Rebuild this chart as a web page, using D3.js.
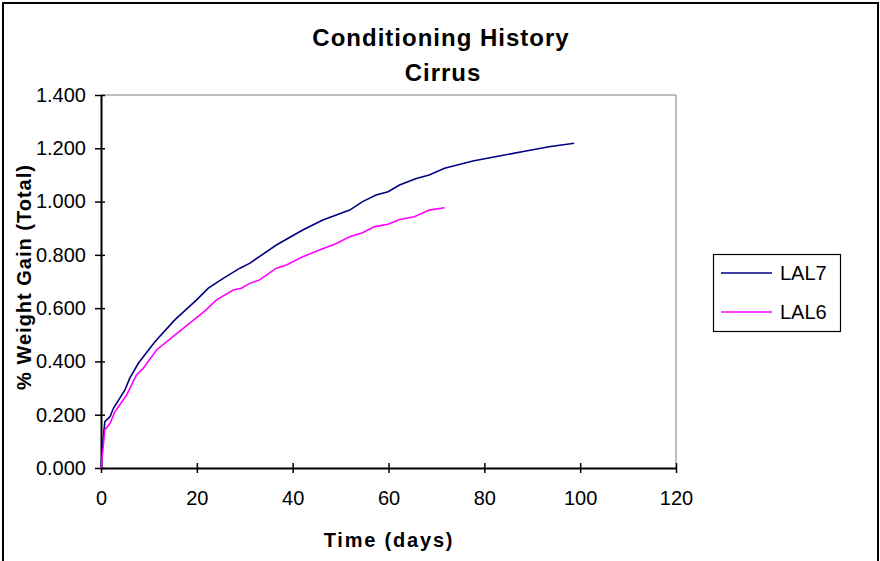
<!DOCTYPE html>
<html>
<head>
<meta charset="utf-8">
<script src="https://cdn.jsdelivr.net/npm/d3@7"></script>
<style>
  body { margin: 0; background: #fff; }
  text { font-family: "Liberation Sans", Arial, sans-serif; }
</style>
</head>
<body>
<div id="chart"></div>
<script>
// LAL7 readings (days, % weight gain)
const lal7Days = [0, 0.3, 0.8, 1.9, 2.6, 5, 6, 7.8, 11.25, 15.4, 19.9, 22.4, 25.5, 29, 31, 36.6, 42.1, 46.3, 51.9, 54.6, 57.4, 59.9, 62.3, 65.8, 68.5, 71.7, 77.6, 83.1, 88.7, 93.5, 98.75]
const lal7Gain = [0, 0.08, 0.174, 0.193, 0.224, 0.293, 0.337, 0.393, 0.474, 0.556, 0.63, 0.675, 0.712, 0.75, 0.768, 0.837, 0.893, 0.931, 0.968, 1.0, 1.025, 1.037, 1.062, 1.087, 1.1, 1.125, 1.152, 1.171, 1.19, 1.206, 1.219]

// LAL6 readings
const lal6Days = [0, 0.3, 0.8, 1.9, 2.9, 5.35, 7.4, 8.8, 11.6, 15.4, 18.9, 21.7, 24.1, 27.6, 29.3, 31, 33.1, 36.6, 38.7, 42.1, 45.6, 49.1, 51.9, 54.6, 57.1, 59.9, 62.3, 65.4, 68.5, 71.7]
const lal6Gain = [0, 0.05, 0.143, 0.168, 0.211, 0.274, 0.349, 0.374, 0.443, 0.499, 0.549, 0.59, 0.631, 0.668, 0.675, 0.693, 0.706, 0.75, 0.762, 0.793, 0.818, 0.843, 0.868, 0.883, 0.906, 0.915, 0.933, 0.943, 0.968, 0.977]

const xTicks = [0, 20, 40, 60, 80, 100, 120]
const yTicks = [0, 0.2, 0.4, 0.6, 0.8, 1.0, 1.2, 1.4]

const series = [
    { name: "LAL7", color: "#000080", days: lal7Days, gain: lal7Gain },
    { name: "LAL6", color: "#ff00ff", days: lal6Days, gain: lal6Gain }
]

const WIDTH = 880, HEIGHT = 561
const plot = { left: 101, right: 676, top: 95, bottom: 468 }

var svg = d3.select("#chart").append("svg")
    .attr("width", WIDTH)
    .attr("height", HEIGHT)

// outer chart frame
svg.append("rect")
    .attr("x", 3).attr("y", 3)
    .attr("width", 875).attr("height", 580)
    .attr("fill", "#fff")
    .attr("stroke", "#000")
    .attr("stroke-width", 2)

var xscale = d3.scaleLinear().domain([0, 120]).range([plot.left, plot.right])
var yscale = d3.scaleLinear().domain([0, 1.4]).range([plot.bottom, plot.top])

// plot area border (top/right gray)
svg.append("path")
    .attr("d", `M${plot.left},${plot.top}H${plot.right}V${plot.bottom}`)
    .attr("fill", "none")
    .attr("stroke", "#808080")
    .attr("stroke-width", 1)

var x_axis = d3.axisBottom(xscale)
    .tickValues(xTicks)
    .tickSizeInner(5)
    .tickSizeOuter(0)
    .tickPadding(18)
    .tickFormat(d3.format("d"))

var y_axis = d3.axisLeft(yscale)
    .tickValues(yTicks)
    .tickSizeInner(5)
    .tickSizeOuter(0)
    .tickPadding(10)
    .tickFormat(d3.format(".3f"))

function styleAxis(g) {
    g.select(".domain").attr("stroke", "#000").attr("stroke-width", 2)
    g.selectAll(".tick line").attr("stroke", "#000").attr("stroke-width", 1.5)
    g.selectAll(".tick text")
        .attr("fill", "#000")
        .style("font-size", "20px")
        .style("font-family", "'Liberation Sans', Arial, sans-serif")
}

var gx = svg.append("g")
    .attr("transform", "translate(0," + plot.bottom + ")")
    .call(x_axis)
styleAxis(gx)
// ticks cross the axis
gx.selectAll(".tick line").attr("y1", -5).attr("y2", 5)

var gy = svg.append("g")
    .attr("transform", "translate(" + plot.left + ",0)")
    .call(y_axis)
styleAxis(gy)
gy.selectAll(".tick line").attr("x1", -6).attr("x2", 4)

// lines
var line = d3.line()
    .x(d => xscale(d[0]))
    .y(d => yscale(d[1]))

series.forEach(function (s) {
    svg.append("path")
        .datum(d3.zip(s.days, s.gain))
        .attr("fill", "none")
        .attr("stroke", s.color)
        .attr("stroke-width", 1.6)
        .attr("d", line)
})

// titles
svg.append("text")
    .attr("x", 441).attr("y", 46)
    .attr("text-anchor", "middle")
    .style("font-size", "24px").style("font-weight", "bold")
    .style("letter-spacing", "1px")
    .text("Conditioning History")
svg.append("text")
    .attr("x", 443).attr("y", 81)
    .attr("text-anchor", "middle")
    .style("font-size", "24px").style("font-weight", "bold")
    .style("letter-spacing", "1px")
    .text("Cirrus")

// text label for the x axis
svg.append("text")
    .attr("x", 389).attr("y", 547)
    .attr("text-anchor", "middle")
    .style("font-size", "20px").style("font-weight", "bold")
    .style("letter-spacing", "1.8px")
    .text("Time (days)")

// text label for the y axis
svg.append("text")
    .attr("transform", "translate(31,277) rotate(-90)")
    .attr("text-anchor", "middle")
    .style("font-size", "20px").style("font-weight", "bold")
    .style("letter-spacing", "1px")
    .text("% Weight Gain (Total)")

// legend
svg.append("rect")
    .attr("x", 713.5).attr("y", 254.5)
    .attr("width", 127).attr("height", 77)
    .attr("fill", "#fff")
    .attr("stroke", "#000")
    .attr("stroke-width", 1.2)
series.forEach(function (s, i) {
    var ly = 273 + i * 39
    svg.append("line")
        .attr("x1", 721).attr("x2", 772)
        .attr("y1", ly).attr("y2", ly)
        .attr("stroke", s.color)
        .attr("stroke-width", 1.6)
    svg.append("text")
        .attr("x", 780).attr("y", ly + 7)
        .style("font-size", "20px")
        .text(s.name)
})
</script>
</body>
</html>
